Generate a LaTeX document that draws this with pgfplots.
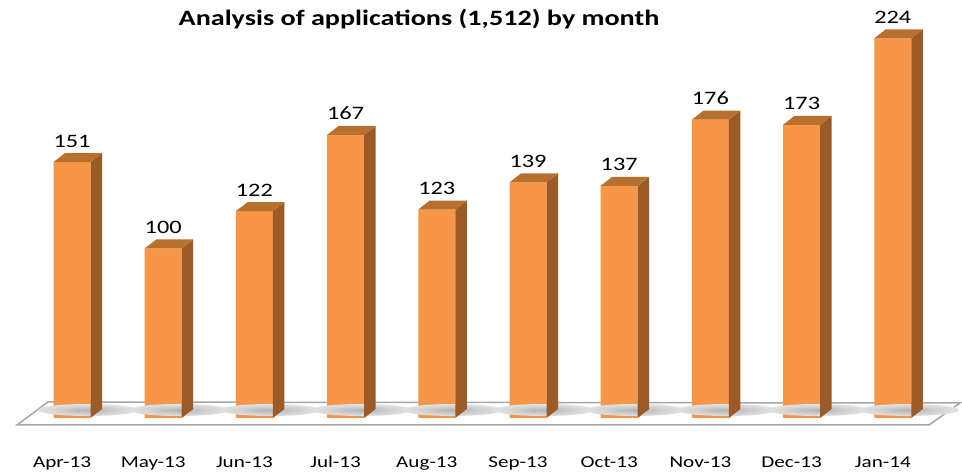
\documentclass[border=0pt]{standalone}
\usepackage{pgfplots}
\pgfplotsset{compat=1.18}
\usepackage{fontspec}
\setmainfont{Carlito}[FakeStretch=1.28]
\definecolor{front}{HTML}{F79646}
\definecolor{side}{HTML}{9C5B26}
\definecolor{topc}{HTML}{B8702E}
\pgfdeclareradialshading{barshadow}{\pgfpoint{0bp}{0bp}}{color(0bp)=(black!30); color(15bp)=(black!18); color(35bp)=(black!5); color(50bp)=(white)}
\pgfdeclareplotmark{shadow3d}{%
  \pgfmathsetmacro\hh{\ry*1.695}%
  \pgfpathellipse{\pgfpoint{16pt}{8pt-\hh pt}}{\pgfpoint{50pt}{0pt}}{\pgfpoint{0pt}{6pt}}%
  \pgfshadepath{barshadow}{0}\pgfusepath{discard}%
}
\pgfdeclareplotmark{box3d}{%
  \pgfmathsetmacro\hh{\ry*1.695}%
  \pgfpathmoveto{\pgfpoint{18.5pt}{0pt}}%
  \pgfpathlineto{\pgfpoint{30pt}{9pt}}%
  \pgfpathlineto{\pgfpoint{30pt}{9pt-\hh pt}}%
  \pgfpathlineto{\pgfpoint{18.5pt}{-\hh pt}}%
  \pgfpathclose
  \pgfsetfillcolor{side}\pgfusepath{fill}%
  \pgfpathmoveto{\pgfpoint{-18.5pt}{0pt}}%
  \pgfpathlineto{\pgfpoint{-7pt}{9pt}}%
  \pgfpathlineto{\pgfpoint{30pt}{9pt}}%
  \pgfpathlineto{\pgfpoint{18.5pt}{0pt}}%
  \pgfpathclose
  \pgfsetfillcolor{topc}\pgfusepath{fill}%
}
\pgfplotstableread{
x v
0 151
1 100
2 122
3 167
4 123
5 139
6 137
7 176
8 173
9 224
}\datatable
\begin{document}
\begin{tikzpicture}
\useasboundingbox (0,0) rectangle (962pt,473pt);
% floor
\fill[white] (17pt,48pt) -- (48pt,71pt) -- (960pt,70pt) -- (929pt,48pt) -- cycle;
\draw[gray!70, line width=1.5pt] (17pt,48pt) -- (48pt,71pt) -- (960pt,70pt) -- (929pt,48pt) -- cycle;
\node[font=\fontsize{22}{26}\selectfont\bfseries, anchor=base, inner sep=0pt] at (419pt,447pt) {Analysis of applications (1,512) by month};
\begin{axis}[
  at={(26.4pt,55pt)}, anchor=south west,
  x=91.2pt, y=1.695pt,
  xmin=-0.5, xmax=9.5, ymin=0, ymax=250,
  clip=false,
  axis line style={draw=none},
  major tick length=0pt,
  ytick=\empty,
  xtick={0,...,9},
  xticklabels={Apr-13,May-13,Jun-13,Jul-13,Aug-13,Sep-13,Oct-13,Nov-13,Dec-13,Jan-14},
  xticklabel style={font=\fontsize{16.5}{20}\selectfont, anchor=base, xshift=-10pt, yshift=-50pt},
  /pgf/number format/assume math mode=true,
  ybar, bar width=37pt,
]
\addplot[only marks, mark=shadow3d, visualization depends on={rawy \as \ry}] table[x=x,y=v] {\datatable};
\addplot[fill=front, draw=none, nodes near coords,
  nodes near coords style={font=\fontsize{19}{22}\selectfont, anchor=base, yshift=15pt, inner sep=0pt}] table[x=x,y=v] {\datatable};
\addplot[only marks, mark=box3d, visualization depends on={rawy \as \ry}] table[x=x,y=v] {\datatable};
\end{axis}
\end{tikzpicture}
\end{document}
